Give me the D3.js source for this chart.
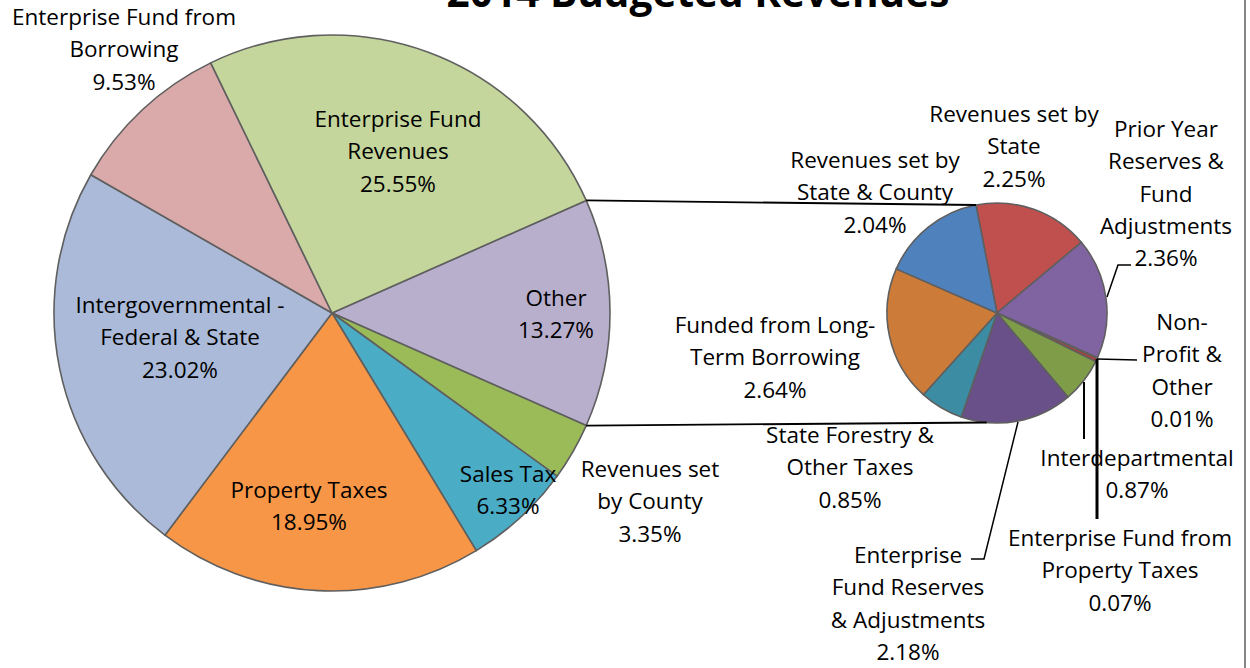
<!DOCTYPE html>
<html>
<head>
<meta charset="utf-8">
<script src="https://cdn.jsdelivr.net/npm/d3@7"></script>
<style>
    body { margin: 0; background: #fff; }
    text { font-family: "Open Sans", Lato, "Liberation Sans", sans-serif; fill: #000; }
</style>
</head>
<body>
<svg id="chart" width="1250" height="668"></svg>
<script>
// ====================================
// Données
// ====================================
const title = "2014 Budgeted Revenues";

// Camembert principal (dans le sens horaire, en partant de "Other")
const mainLabels = [
    ["Other", "13.27%"],
    ["Revenues set", "by County", "3.35%"],
    ["Sales Tax", "6.33%"],
    ["Property Taxes", "18.95%"],
    ["Intergovernmental -", "Federal & State", "23.02%"],
    ["Enterprise Fund from", "Borrowing", "9.53%"],
    ["Enterprise Fund", "Revenues", "25.55%"]
];
const mainValues = [13.27, 3.35, 6.33, 18.95, 23.02, 9.53, 25.55];

// Camembert secondaire (détail de "Other")
const subLabels = [
    ["Revenues set by", "State", "2.25%"],
    ["Prior Year", "Reserves &", "Fund", "Adjustments", "2.36%"],
    ["Non-", "Profit &", "Other", "0.01%"],
    ["Enterprise Fund from", "Property Taxes", "0.07%"],
    ["Interdepartmental", "0.87%"],
    ["Enterprise", "Fund Reserves", "& Adjustments", "2.18%"],
    ["State Forestry &", "Other Taxes", "0.85%"],
    ["Funded from Long-", "Term Borrowing", "2.64%"],
    ["Revenues set by", "State & County", "2.04%"]
];
const subValues = [2.25, 2.36, 0.01, 0.07, 0.87, 2.18, 0.85, 2.64, 2.04];

// ====================================
// Mise en page / styles
// ====================================
const mainColors = ["#b8afcd", "#9bbb59", "#4bacc6", "#f79646", "#aabad8", "#d9aaa9", "#c4d69c"];
const subColors = ["#c0504d", "#8064a2", "#c0504d", "#a8423f", "#7f9c48", "#6a5089", "#3c8da4", "#cc7b38", "#4f81bd"];

const main = { cx: 332, cy: 313, r: 278 };
const sub = { cx: 997, cy: 313, r: 110, start: -11 * Math.PI / 180 };
const lineH = 32.3;
const fontSize = 22.5;

// position (centre x, ligne de base de la 1re ligne) des étiquettes
const mainLabelPos = [[556, 306], [650, 477], [508, 482], [309, 498], [180, 313], [124, 25], [398, 127]];
const subLabelPos = [[1014, 122], [1166, 137], [1182, 330], [1120, 546], [1137, 466], [908, 563], [850, 443], [775, 333], [875, 168]];

// lignes de rappel du camembert secondaire
const leaders = [
    { pts: [[1107, 297], [1118, 265], [1131, 265]], w: 1.5 },
    { pts: [[1097, 359], [1137, 360]], w: 1.5 },
    { pts: [[1097, 359], [1097, 519]], w: 3 },
    { pts: [[1084, 382], [1084, 439]], w: 2 },
    { pts: [[1018, 422], [984, 559], [971, 559]], w: 1.5 }
];

const svg = d3.select("#chart");

// ------------------------------------
// Camembert principal
// ------------------------------------
const otherAngle = mainValues[0] / d3.sum(mainValues) * 2 * Math.PI;
const mainPie = d3.pie().sort(null)
    .startAngle(Math.PI / 2 - otherAngle / 2)
    .endAngle(Math.PI / 2 - otherAngle / 2 + 2 * Math.PI);
const mainArcs = mainPie(mainValues);
const mainArc = d3.arc().innerRadius(0).outerRadius(main.r);

const gMain = svg.append("g").attr("transform", `translate(${main.cx},${main.cy})`);
gMain.selectAll("path")
    .data(mainArcs)
    .join("path")
    .attr("d", mainArc)
    .attr("fill", (d, i) => mainColors[i])
    .attr("stroke", "#5f5f5f")
    .attr("stroke-width", 1.6)
    .attr("stroke-linejoin", "round");

// ------------------------------------
// Camembert secondaire
// ------------------------------------
const subPie = d3.pie().sort(null)
    .startAngle(sub.start)
    .endAngle(sub.start + 2 * Math.PI);
const subArcs = subPie(subValues);
const subArc = d3.arc().innerRadius(0).outerRadius(sub.r);

const gSub = svg.append("g").attr("transform", `translate(${sub.cx},${sub.cy})`);
gSub.selectAll("path")
    .data(subArcs)
    .join("path")
    .attr("d", subArc)
    .attr("fill", (d, i) => subColors[i])
    .attr("stroke", "#5f5f5f")
    .attr("stroke-width", 1.6)
    .attr("stroke-linejoin", "round");

// ------------------------------------
// Lignes de liaison
// ------------------------------------
const polar = (c, r, a) => [c.cx + r * Math.sin(a), c.cy - r * Math.cos(a)];
const otherArc = mainArcs[0];
const connectors = [
    [polar(main, main.r, otherArc.startAngle), polar(sub, sub.r, sub.start)],
    [polar(main, main.r, otherArc.endAngle), polar(sub, sub.r, Math.PI * 1.03)]
];
svg.selectAll(".connector")
    .data(connectors)
    .join("line")
    .attr("class", "connector")
    .attr("x1", d => d[0][0]).attr("y1", d => d[0][1])
    .attr("x2", d => d[1][0]).attr("y2", d => d[1][1])
    .attr("stroke", "#000")
    .attr("stroke-width", 1.8);

svg.selectAll(".leader")
    .data(leaders)
    .join("polyline")
    .attr("class", "leader")
    .attr("points", d => d.pts.map(p => p.join(",")).join(" "))
    .attr("fill", "none")
    .attr("stroke", "#000")
    .attr("stroke-width", d => d.w);

// ------------------------------------
// Étiquettes
// ------------------------------------
function drawLabels(labels, positions) {
    labels.forEach((lines, i) => {
        const [x, y] = positions[i];
        const t = svg.append("text")
            .attr("text-anchor", "middle")
            .attr("font-size", fontSize);
        lines.forEach((line, k) => {
            t.append("tspan")
                .attr("x", x)
                .attr("y", y + k * lineH)
                .text(line);
        });
    });
}
drawLabels(mainLabels, mainLabelPos);
drawLabels(subLabels, subLabelPos);

// Titre (coupé en haut comme dans l'original)
const titleText = svg.append("text")
    .attr("x", 698)
    .attr("y", 7)
    .attr("text-anchor", "middle")
    .attr("font-weight", "bold")
    .attr("font-size", 40)
    .text(title);
const tw = titleText.node().getComputedTextLength();
titleText.attr("font-size", 40 * 503 / tw);

// bordure droite de la zone du graphique
svg.append("line")
    .attr("x1", 1245).attr("y1", 0)
    .attr("x2", 1245).attr("y2", 668)
    .attr("stroke", "#868686")
    .attr("stroke-width", 2);
</script>
</body>
</html>
